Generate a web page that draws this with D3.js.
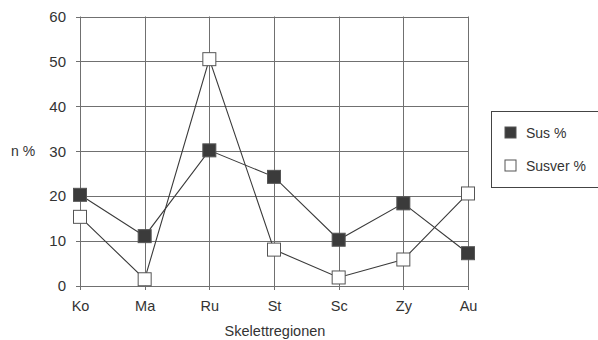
<!DOCTYPE html>
<html>
  <head>
    <script src="https://cdn.jsdelivr.net/npm/d3@7/dist/d3.min.js"></script>
    <style>
      body { margin: 0; background: #fff; }
      text { font-family: "Liberation Sans", Arial, sans-serif; fill: #333; }
    </style>
  </head>
  <body>
    <div id="chart"></div>

    <script>
      // ========= Data ========= //
      const categories = ['Ko', 'Ma', 'Ru', 'St', 'Sc', 'Zy', 'Au'];
      const susValues = [20.3, 11.1, 30.2, 24.3, 10.3, 18.4, 7.3];
      const susverValues = [15.4, 1.5, 50.5, 8.1, 1.9, 5.9, 20.6];
      const yTicks = [0, 10, 20, 30, 40, 50, 60];
      const seriesNames = ['Sus %', 'Susver %'];

      // ========= Setup dimensions ========= //
      const width = 598;
      const height = 340;
      const plotLeft = 80, plotRight = 468, plotTop = 16.5, plotBottom = 286;
      const markerSize = 13;

      const svg = d3.select('#chart').append('svg')
        .attr('width', width)
        .attr('height', height);

      // ========= Scales ========= //
      const x = d3.scalePoint()
        .domain(categories)
        .range([plotLeft, plotRight]);

      const y = d3.scaleLinear()
        .domain([0, 60])
        .range([plotBottom, plotTop]);

      // ========= Grid ========= //
      const grid = svg.append('g').attr('stroke', '#707070').attr('stroke-width', 1);

      grid.selectAll('.hgrid')
        .data(yTicks)
        .join('line')
          .attr('x1', plotLeft - 4)
          .attr('x2', plotRight)
          .attr('y1', d => Math.round(y(d)) + 0.5)
          .attr('y2', d => Math.round(y(d)) + 0.5);

      grid.selectAll('.vgrid')
        .data(categories)
        .join('line')
          .attr('x1', d => Math.round(x(d)) + 0.5)
          .attr('x2', d => Math.round(x(d)) + 0.5)
          .attr('y1', plotTop)
          .attr('y2', plotBottom + 4);

      // ========= Axes labels ========= //
      const yAxis = svg.append('g')
        .attr('transform', `translate(${plotLeft},0)`)
        .call(d3.axisLeft(y).tickValues(yTicks).tickSize(0).tickPadding(14));
      yAxis.select('.domain').remove();
      yAxis.selectAll('text').style('font-size', '15px').attr('fill', '#333');

      const xAxis = svg.append('g')
        .attr('transform', `translate(0,${plotBottom})`)
        .call(d3.axisBottom(x).tickSize(0).tickPadding(15));
      xAxis.select('.domain').remove();
      xAxis.selectAll('text').style('font-size', '14.5px').attr('fill', '#333');

      svg.append('text')
        .attr('x', 11)
        .attr('y', y(30) + 5)
        .style('font-size', '14px')
        .text('n %');

      svg.append('text')
        .attr('x', 275)
        .attr('y', 336)
        .attr('text-anchor', 'middle')
        .style('font-size', '14.5px')
        .text('Skelettregionen');

      // ========= Lines ========= //
      const line = d3.line()
        .x((d, i) => x(categories[i]))
        .y(d => y(d));

      const series = [
        { name: seriesNames[0], values: susValues, fill: '#3b3b3b' },
        { name: seriesNames[1], values: susverValues, fill: '#fff' }
      ];

      series.forEach(s => {
        svg.append('path')
          .attr('d', line(s.values))
          .attr('fill', 'none')
          .attr('stroke', '#3a3a3a')
          .attr('stroke-width', 1.1);
      });

      series.forEach(s => {
        svg.append('g').selectAll('rect')
          .data(s.values)
          .join('rect')
            .attr('x', (d, i) => x(categories[i]) - markerSize / 2)
            .attr('y', d => y(d) - markerSize / 2)
            .attr('width', markerSize)
            .attr('height', markerSize)
            .attr('fill', s.fill)
            .attr('stroke', '#555')
            .attr('stroke-width', 1);
      });

      // ========= Legend ========= //
      const legend = svg.append('g');
      legend.append('rect')
        .attr('x', 491.5)
        .attr('y', 111.5)
        .attr('width', 120)
        .attr('height', 76)
        .attr('fill', '#fff')
        .attr('stroke', '#444');

      const item = legend.selectAll('.item')
        .data(series)
        .join('g')
          .attr('transform', (d, i) => `translate(505,${127 + i * 33})`);

      item.append('rect')
        .attr('width', 11)
        .attr('height', 11)
        .attr('fill', d => d.fill)
        .attr('stroke', '#555');

      item.append('text')
        .attr('x', 21)
        .attr('y', 11)
        .style('font-size', '14px')
        .text(d => d.name);
    </script>
  </body>
</html>
